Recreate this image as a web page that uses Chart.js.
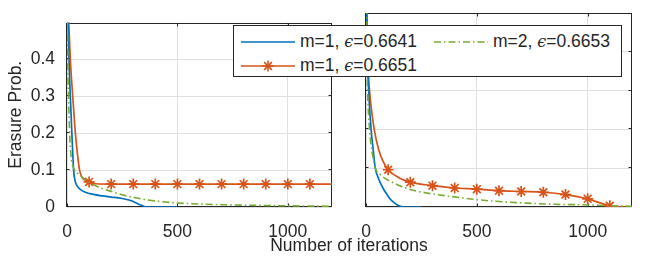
<!DOCTYPE html>
<html><head><meta charset="utf-8">
<script src="https://cdn.jsdelivr.net/npm/chart.js@4.4.1/dist/chart.umd.min.js"></script>
<style>
html,body{margin:0;padding:0;background:#fff;}
body{width:665px;height:259px;overflow:hidden;position:relative;font-family:'Liberation Sans',Arial,sans-serif;color:#262626;}
canvas{position:absolute;top:0;}
#cl{left:0;}
#cr{left:345px;}
#xt{position:absolute;left:349px;top:236.5px;transform:translateX(-50%);font-size:17.5px;line-height:17.5px;white-space:nowrap;}
#leg{position:absolute;left:233px;top:25px;width:387px;height:50px;border:1px solid #262626;background:#fff;z-index:5;}
.ent{position:absolute;font-size:17.5px;line-height:17.5px;white-space:nowrap;}
.ent svg{position:absolute;left:0;top:0;}
.ent span.t{position:absolute;top:0;}
.eps{font-family:'DejaVu Serif',serif;font-style:italic;font-size:16px;}
</style></head>
<body>
<canvas id="cl" width="345" height="259"></canvas>
<canvas id="cr" width="320" height="259"></canvas>
<div id="leg"></div>
<div id="xt"></div>
<script>
// ---------- data ----------
const xTicks = [0, 500, 1000];
const yTicks = [0, 0.1, 0.2, 0.3, 0.4];
const xLabel = 'Number of iterations';
const yLabel = 'Erasure Prob.';
const seriesNames = ['m=1, ϵ=0.6641', 'm=1, ϵ=0.6651', 'm=2, ϵ=0.6653'];
const markerIters = [100, 200, 300, 400, 500, 600, 700, 800, 900, 1000, 1100];

// left panel
const leftBlueIt  = [0, 9, 15, 22, 30, 35, 45, 60, 83, 120, 160, 200, 250, 280, 300, 320, 340, 355, 370, 500];
const leftBlueP   = [0.6641, 0.4, 0.3, 0.2, 0.1, 0.075, 0.058, 0.048, 0.04, 0.034, 0.03, 0.027, 0.023, 0.019, 0.015, 0.009, 0.004, 0.0005, 0, 0];
const leftOrangeIt = [0, 8, 15, 26, 38, 50, 57, 68, 85, 100, 130, 200, 300, 400, 500, 600, 700, 800, 900, 1000, 1100, 1200];
const leftOrangeP  = [0.6651, 0.5, 0.4, 0.3, 0.2, 0.13, 0.1, 0.08, 0.072, 0.068, 0.063, 0.062, 0.062, 0.062, 0.062, 0.062, 0.062, 0.062, 0.062, 0.062, 0.062, 0.062];
const leftGreenIt = [0, 3, 7, 12, 18, 27, 38, 57, 80, 103, 150, 196, 270, 347, 420, 500, 600, 725, 850, 1026, 1200];
const leftGreenP  = [0.6653, 0.42, 0.3, 0.2, 0.14, 0.11, 0.097, 0.088, 0.075, 0.066, 0.052, 0.043, 0.03, 0.021, 0.015, 0.011, 0.008, 0.006, 0.0045, 0.003, 0.002];

// right panel
const rightBlueIt = [0, 5, 12, 23, 32, 42, 52, 65, 80, 95, 110, 125, 140, 155, 175, 250];
const rightBlueP  = [0.6641, 0.42, 0.3, 0.2, 0.15, 0.1, 0.08, 0.062, 0.045, 0.032, 0.02, 0.012, 0.006, 0.002, 0, 0];
const rightOrangeIt = [0, 6, 16, 25, 37, 57, 75, 100, 150, 200, 300, 400, 500, 600, 700, 800, 900, 1000, 1100, 1150, 1200];
const rightOrangeP  = [0.6651, 0.42, 0.3, 0.25, 0.2, 0.148, 0.12, 0.096, 0.075, 0.064, 0.055, 0.049, 0.046, 0.042, 0.04, 0.038, 0.032, 0.021, 0.003, 0, 0];
const rightGreenIt = [0, 3, 7, 16, 25, 34, 42, 65, 125, 200, 275, 400, 500, 600, 726, 850, 1026, 1100, 1200];
const rightGreenP  = [0.6653, 0.42, 0.3, 0.2, 0.15, 0.122, 0.1, 0.083, 0.062, 0.045, 0.036, 0.026, 0.019, 0.014, 0.01, 0.007, 0.005, 0.003, 0.002];

// ---------- style ----------
const C_BLUE = '#0072BD', C_ORANGE = '#D95319', C_GREEN = '#77AC30';
const C_AX = '#262626', C_GRID = '#dfdfdf';
const FONT = {family: "'Liberation Sans', Arial, sans-serif", size: 17.5};
const zip = (a, b) => a.map((v, i) => ({x: v, y: b[i]}));

const boxPlugin = {
  id: 'box',
  beforeDatasetsDraw(chart) {
    const {ctx, chartArea: a, scales: {x, y}} = chart;
    ctx.save();
    ctx.strokeStyle = C_AX; ctx.lineWidth = 1;
    const L = Math.round(a.left) - 0.5, R = Math.round(a.right) - 0.5,
          T = Math.round(a.top) + 0.5, B = Math.round(a.bottom) - 0.5;
    ctx.strokeRect(L, T, R - L, B - T);
    ctx.beginPath();
    const tl = 3;
    yTicks.forEach(v => {
      const p = Math.round(y.getPixelForValue(v)) - 0.5;
      ctx.moveTo(L, p); ctx.lineTo(L + tl, p);
      ctx.moveTo(R, p); ctx.lineTo(R - tl, p);
    });
    xTicks.forEach(v => {
      const p = Math.round(x.getPixelForValue(v)) + 0.5;
      ctx.moveTo(p, B); ctx.lineTo(p, B - tl);
      ctx.moveTo(p, T); ctx.lineTo(p, T + tl);
    });
    ctx.stroke();
    ctx.restore();
  }
};

function datasets(bIt, bP, oIt, oP, gIt, gP) {
  return [
    {data: zip(gIt, gP), borderColor: C_GREEN, borderWidth: 1.6, borderDash: [7, 3, 1.5, 3], pointRadius: 0},
    {data: zip(bIt, bP), borderColor: C_BLUE, borderWidth: 1.7, pointRadius: 0},
    {data: zip(oIt, oP), borderColor: C_ORANGE, borderWidth: 1.7,
     pointStyle: 'star', pointBorderColor: C_ORANGE, pointBorderWidth: 1.7,
     pointRadius: ctx => (ctx.raw && markerIters.includes(ctx.raw.x)) ? 5.5 : 0}
  ];
}

function options(showY, yWidth, padRight) {
  return {
    responsive: false, animation: false, devicePixelRatio: 1,
    layout: {padding: {top: 13, right: padRight, left: 0, bottom: 0}},
    plugins: {legend: {display: false}, tooltip: {enabled: false}},
    elements: {line: {cubicInterpolationMode: 'monotone', borderJoinStyle: 'round'}, point: {hoverRadius: 0}},
    scales: {
      x: {
        type: 'linear', min: 0, max: 1200,
        afterBuildTicks: s => { s.ticks = xTicks.map(v => ({value: v})); },
        afterFit: s => { s.height = 52; },
        grid: {color: C_GRID, drawTicks: false, lineWidth: 1},
        border: {display: false},
        ticks: {padding: 15, color: C_AX, font: FONT, maxRotation: 0, autoSkip: false, callback: v => String(v)}
      },
      y: {
        type: 'linear', min: 0, max: 0.5,
        afterBuildTicks: s => { s.ticks = yTicks.map(v => ({value: v})); },
        afterFit: s => { s.width = yWidth; },
        grid: {color: C_GRID, drawTicks: false, lineWidth: 1},
        border: {display: false},
        ticks: {display: showY, padding: 12, color: C_AX, font: FONT, callback: v => String(v)},
        title: {display: showY, text: yLabel, color: C_AX, font: FONT, padding: {top: 6, bottom: 0}}
      }
    }
  };
}

new Chart(document.getElementById('cl'), {
  type: 'line',
  data: {datasets: datasets(leftBlueIt, leftBlueP, leftOrangeIt, leftOrangeP, leftGreenIt, leftGreenP)},
  options: options(true, 67, 13),
  plugins: [boxPlugin]
});
new Chart(document.getElementById('cr'), {
  type: 'line',
  data: {datasets: datasets(rightBlueIt, rightBlueP, rightOrangeIt, rightOrangeP, rightGreenIt, rightGreenP)},
  options: options(false, 21, 33),
  plugins: [boxPlugin]
});

document.getElementById('xt').textContent = xLabel;

// ---------- legend ----------
function labelHTML(s) {
  return s.replace('ϵ', '<span class="eps">ϵ</span>');
}
const legendItems = [
  {name: seriesNames[0], color: C_BLUE, dash: '', star: false, left: 7, top: 7},
  {name: seriesNames[2], color: C_GREEN, dash: '7 3 1.5 3', star: false, left: 200, top: 7},
  {name: seriesNames[1], color: C_ORANGE, dash: '', star: true, left: 7, top: 31}
];
const leg = document.getElementById('leg');
legendItems.forEach(it => {
  const d = document.createElement('div');
  d.className = 'ent';
  d.style.left = it.left + 'px'; d.style.top = it.top + 'px';
  let svg = `<svg width="56" height="18"><line x1="0" y1="9" x2="54" y2="9" stroke="${it.color}" stroke-width="1.6" ${it.dash ? `stroke-dasharray="${it.dash}"` : ''}/>`;
  if (it.star) {
    const cx = 27, cy = 9, r = 5.5, q = r * Math.SQRT1_2;
    svg += `<g stroke="${it.color}" stroke-width="1.6"><line x1="${cx - r}" y1="${cy}" x2="${cx + r}" y2="${cy}"/><line x1="${cx}" y1="${cy - r}" x2="${cx}" y2="${cy + r}"/><line x1="${cx - q}" y1="${cy - q}" x2="${cx + q}" y2="${cy + q}"/><line x1="${cx - q}" y1="${cy + q}" x2="${cx + q}" y2="${cy - q}"/></g>`;
  }
  svg += '</svg>';
  d.innerHTML = svg + `<span class="t" style="left:59px">${labelHTML(it.name)}</span>`;
  leg.appendChild(d);
});
</script>
</body></html>
